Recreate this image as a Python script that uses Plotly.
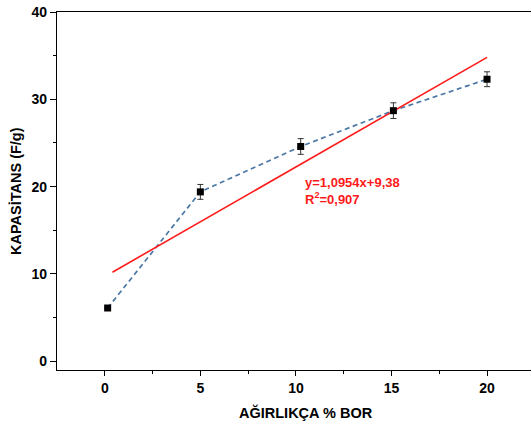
import plotly.graph_objects as go

# Data
bor_pct = [0.15, 5.0, 10.25, 15.1, 20.0]
capacitance = [6.1, 19.4, 24.6, 28.7, 32.3]
cap_error = [0.0, 0.85, 0.9, 0.9, 0.85]

fit_x = [0.4, 20.0]
fit_y = [10.2, 34.8]

eq_text = "y=1,0954x+9,38"
r2_text = "R<sup>2</sup>=0,907"

x_ticks = [0, 5, 10, 15, 20]
y_ticks = [0, 10, 20, 30, 40]

font_family = "Liberation Sans, Arial, sans-serif"

fig = go.Figure()

fig.add_trace(go.Scatter(
    x=bor_pct, y=capacitance, mode="lines",
    line=dict(color="#4A77A6", width=1.7, dash="5px,3.5px"),
    hoverinfo="skip", showlegend=False,
))
fig.add_trace(go.Scatter(
    x=fit_x, y=fit_y, mode="lines",
    line=dict(color="#FF1A1A", width=1.6),
    showlegend=False,
))
fig.add_trace(go.Scatter(
    x=bor_pct, y=capacitance, mode="markers",
    marker=dict(symbol="square", size=7, color="black"),
    error_y=dict(type="data", array=cap_error, visible=True,
                 color="#333333", thickness=1, width=3),
    showlegend=False,
))

fig.add_annotation(x=0.519, y=0.50, xref="paper", yref="paper",
                   text=eq_text + "<br>" + r2_text, showarrow=False,
                   xanchor="left", yanchor="middle", align="left",
                   font=dict(family=font_family, size=13, color="#FF1A1A", weight="bold"))

fig.add_annotation(x=0.525, y=-0.12, xref="paper", yref="paper",
                   text="AĞIRLIKÇA % BOR", showarrow=False,
                   xanchor="center", yanchor="middle",
                   font=dict(family=font_family, size=14.5, color="black", weight="bold"))

fig.add_annotation(x=-0.0865, y=0.5, xref="paper", yref="paper",
                   text="KAPASİTANS (F/g)", showarrow=False, textangle=-90,
                   xanchor="center", yanchor="middle",
                   font=dict(family=font_family, size=14.5, color="black", weight="bold"))

fig.update_layout(
    width=531, height=423,
    margin=dict(l=57, r=0, t=12, b=53),
    plot_bgcolor="white", paper_bgcolor="white",
    font=dict(family=font_family, size=13, color="black"),
)

fig.update_xaxes(
    range=[-2.5, 22.3], tickvals=x_ticks, ticktext=[str(v) for v in x_ticks],
    showgrid=False, zeroline=False, showline=True, linecolor="black", linewidth=1.3,
    mirror=True, ticks="outside", ticklen=5, tickwidth=1, tickcolor="black",
    tickfont=dict(family=font_family, size=14, color="black", weight="bold"),
    minor=dict(tickvals=[2.5, 7.5, 12.5, 17.5], ticks="outside", ticklen=3, tickcolor="black", showgrid=False),
)
fig.update_yaxes(
    range=[-1, 40], tickvals=y_ticks, ticktext=[str(v) for v in y_ticks],
    showgrid=False, zeroline=False, showline=True, linecolor="black", linewidth=1.3,
    ticks="outside", ticklen=6, tickwidth=1, tickcolor="black",
    tickfont=dict(family=font_family, size=14, color="black", weight="bold"),
    minor=dict(tickvals=[5, 15, 25, 35], ticks="outside", ticklen=3, tickcolor="black", showgrid=False),
)

fig.write_html("out.html", config={"displayModeBar": False},
               post_script="document.body.style.margin='0';document.body.style.overflow='hidden';")
